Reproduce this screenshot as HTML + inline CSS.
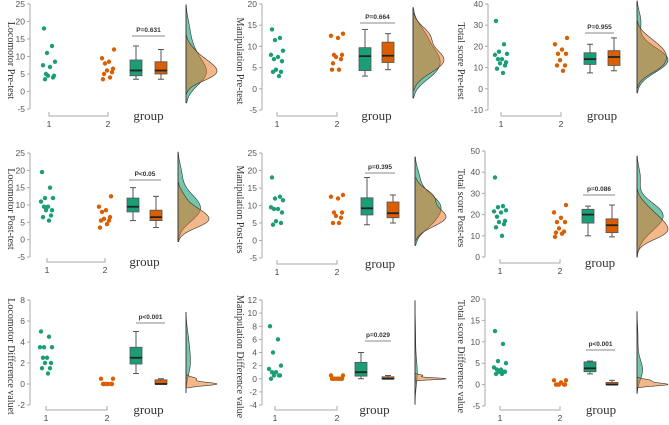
<!DOCTYPE html>
<html><head><meta charset="utf-8"><style>
html,body{margin:0;padding:0;background:#fff;}
svg{display:block;}
</style></head><body>
<svg id="chart" width="669" height="425" viewBox="0 0 669 425" xmlns="http://www.w3.org/2000/svg"></svg>
<script>
// ---- data (per panel) ----
const titles = ["Locomotor Pre-test","Manipulation Pre-test","Total score Pre-test","Locomotor Post-test","Manipulation Post-tes","Total score Post-tes","Locomotor Difference valuet","Manipulation Difference value","Total score Difference value"];
const pLabels = ["P=0.631","P=0.664","P=0.955","P<0.05","p=0.395","p=0.086","p<0.001","p=0.029","p<0.001"];
const yTicks = [[25,20,15,10,5,0,-5],[20,15,10,5,0,-5],[40,30,20,10,0,-10],[25,20,15,10,5,0,-5],[25,20,15,10,5,0,-5],[50,40,30,20,10,0],[8,6,4,2,0,-2],[12,10,8,6,4,2,0,-2,-4],[20,15,10,5,0,-5]];
const group1 = [
 [18,13,11,8.5,7.5,7,5,4.5,4.5,4,3.5],
 [14,12,11.5,9,8,7.5,7,6.5,4.5,4,4,3],
 [32,21,17.5,16.5,16,14,14,12.5,12,11,9.5,7.5],
 [19.5,15,12,12,11,9.5,9.5,8.5,8.5,7,6.5,5.5],
 [18,12.5,12,11.5,9.5,9,9,8,5.5,5,4.5],
 [37.5,24,23.5,22,21.5,21,19,17,16.5,15.5,14,10],
 [5,4.5,3.5,3.5,3.5,2.5,2.5,2,2,1.5,1.5,1],
 [8,6,4,2,1.5,1,1,0.5,0.5,0.5,0],
 [12.5,9.5,5.5,5,4,3.5,3.5,3,3,3,2.5,2.5]];
const group2 = [
 [12,9.5,8.5,8,6.5,6,5.5,5,4,3.5],
 [13,12.5,12,8,8,7.5,7,6,4.5,4.5],
 [24,21,18.5,16.5,16.5,13.5,11,11,8.5],
 [12.5,9.5,8.5,8,6.5,6,5.5,5.5,4.5,3.5],
 [13,12.5,12,8,8,7,6.5,5,5],
 [24.5,21,18.5,16.5,16.5,13.5,12,11.5,11,9.5],
 [0.5,0.5,0,0,0,0,0,0],
 [0.5,0.5,0,0,0,0,0,0,0,0],
 [1,1,0.5,0,0,0,0,0]];
const box1 = [[3.5,4.5,6,9,13],[3,4.3,7.7,9.7,14],[7.5,11.5,14,17,21],[5.5,8,9.5,12,15],[4.5,7.3,9.2,12.2,18],[10,16,20,22.5,24],[1,1.9,2.5,3.5,5],[0,0.4,1,2.5,4],[2.5,3,3.8,5.3,5.5]];
const box2 = [[3.5,5,6,8.5,12],[4.5,6.2,7.8,11,13],[8.5,11,15,18,24],[3.5,5.5,6.5,8.5,12.5],[5,6.5,7.8,11,13],[9.5,11.5,15,18,24.5],[0,0,0,0.4,0.5],[0,0,0,0.3,0.5],[0,0,0,0.5,1]];

// ---- layout (pixels) ----
const L = [
 {ax:30,yT:4,yB:109,xa:116,x1:49,x2:108,b1:136,b2:161,pl:132,pr:165,py:36,db:186,ti:8},
 {ax:262,yT:4,yB:110,xa:116,x1:277,x2:337,b1:365,b2:388,pl:360,pr:395,py:23,db:413,ti:237},
 {ax:488,yT:4,yB:110,xa:116,x1:501,x2:561,b1:590,b2:614,pl:585,pr:614,py:33,db:637,ti:458},
 {ax:30,yT:153,yB:257,xa:262,x1:47,x2:105,b1:133,b2:156,pl:129,pr:161,py:180,db:178,ti:8},
 {ax:262,yT:153,yB:258,xa:264,x1:277,x2:337,b1:367,b2:393,pl:365,pr:395,py:173,db:415,ti:237},
 {ax:485,yT:151,yB:257,xa:263,x1:500,x2:560,b1:588,b2:612,pl:583,pr:615,py:195,db:637,ti:458},
 {ax:30,yT:300,yB:405,xa:410,x1:46,x2:107,b1:136,b2:161,pl:136,pr:165,py:323,db:186,ti:8},
 {ax:262,yT:300,yB:405,xa:410,x1:275,x2:337,b1:361,b2:388,pl:365,pr:391,py:341,db:415,ti:237},
 {ax:485,yT:299,yB:406,xa:410,x1:500,x2:560,b1:590,b2:612,pl:586,pr:615,py:350,db:637,ti:458}];
const jit = [-5,3,-2,6,-6,1,-3,5,-1,4,-4,2];
const G="#1b9e77", O="#d95f02";
const svg=document.getElementById('chart');
const NS="http://www.w3.org/2000/svg";
function mk(tag,attrs,parent){const e=document.createElementNS(NS,tag);for(const k in attrs)e.setAttribute(k,attrs[k]);(parent||svg).appendChild(e);return e;}
function bw(data){const n=data.length;const m=data.reduce((a,b)=>a+b,0)/n;const sd=Math.sqrt(data.reduce((a,b)=>a+(b-m)*(b-m),0)/(n-1))||0.1;return 1.1*sd*Math.pow(n,-0.2);}
function kde(data,y,h){const n=data.length;let s=0;for(const d of data){const u=(y-d)/h;s+=Math.exp(-0.5*u*u);}return s/(n*h*Math.sqrt(2*Math.PI));}

for(let p=0;p<9;p++){
 const l=L[p], t=yTicks[p];
 const g=mk('g',{});
 
 
 const yMax=t[0], yMin=t[t.length-1];
 const ys=v=>l.yT+(yMax-v)/(yMax-yMin)*(l.yB-l.yT);
 const ya=mk('line',{x1:l.ax,x2:l.ax,y1:l.yT,y2:l.yB,stroke:'#aaa','stroke-width':1},g);
 
 
 t.forEach(v=>{
  mk('line',{x1:l.ax-3,x2:l.ax,y1:ys(v),y2:ys(v),stroke:'#aaa'},g);
  const tx=mk('text',{x:l.ax-5,y:ys(v)+3,'text-anchor':'end','font-size':8.5,fill:'#555','font-family':'Liberation Sans, sans-serif'},g);
  tx.textContent=v;
  
  
 });
 const cy=(l.yT+l.yB)/2+4;
 const tt=mk('text',{x:l.ti,y:cy,transform:`rotate(90 ${l.ti} ${cy})`,'text-anchor':'middle','font-size':10,fill:'#333','font-family':'Liberation Serif, serif'},g);
 tt.textContent=titles[p];
 
 
 const xa=mk('path',{d:`M${l.x1} ${l.xa-4}V${l.xa}H${l.x2}V${l.xa-4}`,fill:'none',stroke:'#aaa'},g);
 
 
 [[l.x1,'1'],[l.x2,'2']].forEach(([x,s])=>{const e=mk('text',{x:x,y:l.xa+11,'text-anchor':'middle','font-size':8.5,fill:'#444','font-family':'Liberation Sans, sans-serif'},g);e.textContent=s;
  
  });
 const gx=mk('text',{x:(l.b1+l.b2)/2,y:l.xa+4,'text-anchor':'middle','font-size':13,fill:'#333','font-family':'Liberation Serif, serif'},g);
 gx.textContent='group';
 
 
 [[group1[p],l.x1,G],[group2[p],l.x2,O]].forEach(([arr,cx,c],gi)=>{
  arr.forEach((v,i)=>{const d=mk('circle',{cx:cx+jit[(i+gi*3)%jit.length],cy:ys(v),r:2.2,fill:c},g);
   
   });
 });
 [[box1[p],l.b1,G],[box2[p],l.b2,O]].forEach(([b,cx,c])=>{
  const w=6;
  mk('line',{x1:cx,x2:cx,y1:ys(b[0]),y2:ys(b[4]),stroke:'#555','stroke-width':1},g);
  mk('line',{x1:cx-3,x2:cx+3,y1:ys(b[0]),y2:ys(b[0]),stroke:'#555'},g);
  mk('line',{x1:cx-3,x2:cx+3,y1:ys(b[4]),y2:ys(b[4]),stroke:'#555'},g);
  const r=mk('rect',{x:cx-w,y:ys(b[3]),width:2*w,height:Math.max(1.5,ys(b[1])-ys(b[3])),fill:c,stroke:'#555','stroke-width':0.8},g);
  
  
  mk('line',{x1:cx-w,x2:cx+w,y1:ys(b[2]),y2:ys(b[2]),stroke:'#222','stroke-width':1.8},g);
 });
 mk('line',{x1:l.pl,x2:l.pr,y1:l.py,y2:l.py,stroke:'#888'},g);
 const pt=mk('text',{x:(l.pl+l.pr)/2,y:l.py-4,'text-anchor':'middle','font-size':6.5,'font-weight':'bold',fill:'#333','font-family':'Liberation Sans, sans-serif'},g);
 pt.textContent=pLabels[p];
 
 
 const N=140, dens=[];
 [group1[p],group2[p]].forEach(arr=>{const h=bw(arr);const a=Math.min(...arr)-2.2*h,b=Math.max(...arr)+2.2*h;const pts=[];for(let i=0;i<=N;i++){const y=a+(b-a)*i/N;pts.push([y,kde(arr,y,h)]);}dens.push(pts);});
 const mx=Math.max(...dens[0].map(d=>d[1]),...dens[1].map(d=>d[1]));
 const dw=31;
 let yAll=[];
 dens.forEach((pts,gi)=>{
  const dpath='M'+pts.map(([y,v])=>`${l.db+v/mx*dw},${ys(y)}`).join('L')+`L${l.db},${ys(pts[pts.length-1][0])}L${l.db},${ys(pts[0][0])}Z`;
  const e=mk('path',{d:dpath,fill:gi?'#e8701a':G,'fill-opacity':gi?0.5:0.6,stroke:'#333','stroke-width':0.6},g);
  
  
  yAll.push(ys(pts[0][0]),ys(pts[pts.length-1][0]));
 });
 mk('line',{x1:l.db,x2:l.db,y1:Math.min(...yAll),y2:Math.max(...yAll),stroke:'#333','stroke-width':0.8},g);
}
</script>
</body></html>
